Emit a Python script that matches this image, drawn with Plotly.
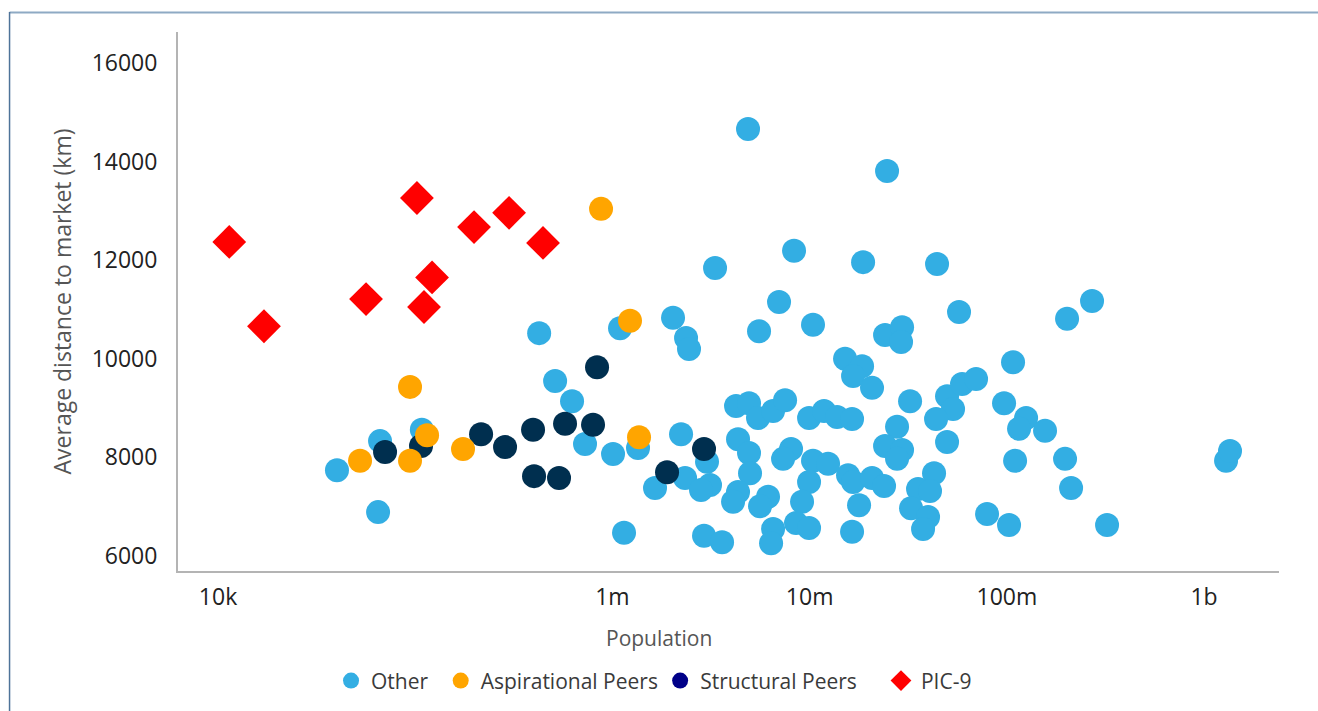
import plotly.graph_objects as go

# ---- data: population (people) and average distance to market (km) ----
other_pop = [
    40100, 64800, 66300, 108000, 425000, 512000, 624000, 726000, 1007000, 1093000,
    1348000, 1644000, 2029000, 2362000, 2445000, 2228000, 1145000, 3017000, 2335000, 3125000,
    2813000, 2913000, 3596000, 3314000, 4870000, 4234000, 4927000, 5473000, 6524000, 7505000,
    4334000, 4927000, 4985000, 4334000, 4089000, 6152000, 5604000, 6524000, 6374000, 8335000,
    6995000, 5538000, 10400000, 8048000, 7331000, 10400000, 12400000, 9932000, 9152000, 8531000,
    9932000, 9932000, 11830000, 13770000, 16410000, 15120000, 18440000, 16600000, 20720000, 18660000,
    24690000, 24120000, 29420000, 29080000, 15660000, 16600000, 20720000, 23840000, 17810000, 16410000,
    27750000, 24120000, 29420000, 27750000, 42740000, 35450000, 40780000, 32680000, 39850000, 37590000,
    44260000, 57220000, 32300000, 49750000, 59260000, 69800000, 53350000, 43750000, 49750000, 107500000,
    96790000, 125200000, 115300000, 156200000, 110100000, 197300000, 211700000, 79360000, 102600000, 322200000,
    202000000, 270400000, 1293000000, 1354000000,
]
other_dist = [
    7740, 6890, 8330, 8560, 10520, 9550, 9140, 8270, 8070, 10620,
    8190, 7380, 10830, 10420, 10200, 8470, 6470, 7910, 7580, 7440,
    7340, 6410, 6280, 11840, 14660, 9040, 9100, 8800, 8940, 9160,
    8370, 8090, 7680, 7300, 7100, 7200, 7010, 6550, 6260, 12190,
    11150, 10560, 10690, 8170, 7970, 7930, 7870, 7500, 7100, 6670,
    6570, 8800, 8940, 8820, 8780, 10000, 9850, 9650, 9410, 11960,
    13810, 10480, 10640, 10340, 7640, 7500, 7580, 7420, 7030, 6490,
    8620, 8230, 8150, 7970, 7680, 7360, 7320, 6970, 6790, 6550,
    11920, 10950, 9140, 9240, 9490, 9590, 8980, 8780, 8310, 9930,
    9100, 8800, 8580, 8540, 7930, 7970, 7380, 6850, 6630, 6630,
    10810, 11170, 7930, 8130,
]

aspirational_pop = [52500, 94100, 94100, 114800, 174700, 875500, 1228000, 1364000]
aspirational_dist = [7930, 9430, 7930, 8450, 8170, 13040, 10770, 8410]

structural_pop = [70300, 107000, 215700, 285400, 395800, 400400, 536000, 575000,
                  797300, 835500, 1892000, 2913000]
structural_dist = [8110, 8230, 8470, 8210, 8560, 7620, 7580, 8680, 8660, 9830, 7700, 8170]

pic9_pop = [11400, 17100, 56300, 102000, 121700, 110800, 198700, 299100, 444600]
pic9_dist = [12370, 10660, 11210, 13260, 11650, 11050, 12670, 12960, 12350]

x_tick_vals = [1e4, 1e6, 1e7, 1e8, 1e9]
x_tick_text = ["10k", "1m", "10m", "100m", "1b"]
y_tick_vals = [6000, 8000, 10000, 12000, 14000, 16000]
y_tick_text = ["6000", "8000", "10000", "12000", "14000", "16000"]

# ---- styling ----
FONT = "Open Sans"
C_OTHER = "#33AEE3"
C_ASP = "#FFA500"
C_STRUCT = "#002F4F"
C_STRUCT_KEY = "#000088"
C_PIC = "#FF0000"

fig = go.Figure()

# data layers (aspirational drawn above structural, PIC-9 on top)
fig.add_trace(go.Scatter(x=other_pop, y=other_dist, mode="markers", showlegend=False,
                         marker=dict(size=24, color=C_OTHER, line=dict(width=0))))
fig.add_trace(go.Scatter(x=structural_pop, y=structural_dist, mode="markers", showlegend=False,
                         marker=dict(size=24, color=C_STRUCT, line=dict(width=0))))
fig.add_trace(go.Scatter(x=aspirational_pop, y=aspirational_dist, mode="markers", showlegend=False,
                         marker=dict(size=24, color=C_ASP, line=dict(width=0))))
fig.add_trace(go.Scatter(x=pic9_pop, y=pic9_dist, mode="markers", showlegend=False,
                         marker=dict(size=26, symbol="diamond", color=C_PIC, line=dict(width=0))))

# legend keys, one small legend per entry so the row spacing can be set
legend_keys = [
    ("Other", C_OTHER, "circle", 16, "legend", 0.1390),
    ("Aspirational Peers", C_ASP, "circle", 16, "legend2", 0.2386),
    ("Structural Peers", C_STRUCT_KEY, "circle", 16, "legend3", 0.4379),
    ("PIC-9", C_PIC, "diamond", 18, "legend4", 0.6385),
]
legend_layout = {}
for name, color, symbol, size, lg, lx in legend_keys:
    fig.add_trace(go.Scatter(x=[None], y=[None], mode="markers", name=name, legend=lg,
                             marker=dict(size=size, color=color, symbol=symbol, line=dict(width=0))))
    legend_layout[lg] = dict(orientation="h", x=lx, xanchor="left", y=-0.204, yanchor="middle",
                             font=dict(family=FONT, size=21, color="#3A3A3A"),
                             itemsizing="trace", bgcolor="rgba(0,0,0,0)")

fig.update_layout(
    width=1318, height=711,
    margin=dict(l=178, r=39, t=32, b=140, autoexpand=False),
    paper_bgcolor="white", plot_bgcolor="white",
    font=dict(family=FONT, color="#222222"),
    showlegend=True,
    xaxis=dict(type="log", range=[3.797, 9.380], tickvals=x_tick_vals, ticktext=x_tick_text,
               showgrid=False, zeroline=False, showline=True, linecolor="#B4B4B4", linewidth=2,
               ticks="", ticklabelstandoff=4,
               tickfont=dict(family=FONT, size=23, color="#222222")),
    yaxis=dict(range=[5696, 16627], tickvals=y_tick_vals, ticktext=y_tick_text,
               showgrid=False, zeroline=False, showline=True, linecolor="#B4B4B4", linewidth=2,
               ticks="", ticklabelstandoff=14,
               tickfont=dict(family=FONT, size=23, color="#222222")),
    annotations=[
        dict(text="Population", xref="paper", yref="paper", x=0.4369, y=-0.1243,
             xanchor="center", yanchor="middle", showarrow=False,
             font=dict(family=FONT, size=21, color="#555555")),
        dict(text="Average distance to market (km)", xref="paper", yref="paper",
             x=-0.1054, y=0.5, xanchor="center", yanchor="middle", textangle=-90,
             showarrow=False, font=dict(family=FONT, size=23, color="#555555")),
    ],
    shapes=[
        dict(type="line", xref="paper", yref="paper", x0=-0.1530, x1=1.04, y0=1.0362, y1=1.0362,
             line=dict(color="#8EAAC4", width=2)),
        dict(type="line", xref="paper", yref="paper", x0=-0.1530, x1=-0.1530, y0=1.0371, y1=-0.30,
             line=dict(color="#4E7399", width=1.5)),
    ],
    **legend_layout,
)

fig.write_html("out.html")
